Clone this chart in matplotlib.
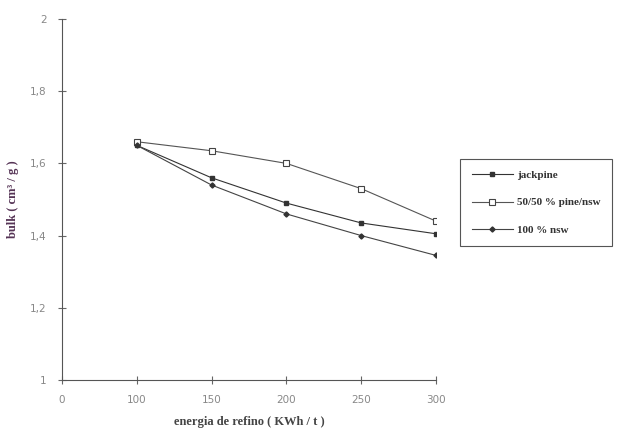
"""
Bulk vs refining energy for three pulp furnishes.
"""
import matplotlib
matplotlib.use('Agg')
import matplotlib.pyplot as plt
from matplotlib.ticker import FuncFormatter

# refining energy categories (KWh / t), evenly spaced as in a category axis
CATEGORIES = ['0', '100', '150', '200', '250', '300']
ENERGY = ['100', '150', '200', '250', '300']
# bulk (cm3 / g) for each furnish
JACKPINE = [1.65, 1.56, 1.49, 1.435, 1.405]
MIX_50_50 = [1.66, 1.635, 1.60, 1.53, 1.44]
NSW_100 = [1.65, 1.54, 1.46, 1.40, 1.345]
LABELS = ['jackpine', '50/50 % pine/nsw', '100 % nsw']

Y_TICKS = [1, 1.2, 1.4, 1.6, 1.8, 2]

# category positions of the plotted energies
XPOS = [CATEGORIES.index(e) for e in ENERGY]

fig = plt.figure(figsize=(6.23, 4.32), dpi=100)
ax = fig.add_axes([0.0995, 0.1204, 0.6005, 0.8356])

ax.plot(XPOS, JACKPINE, color='#333333', lw=0.8, marker='s', ms=3.2,
        mfc='#333333', mec='#333333', label=LABELS[0])
ax.plot(XPOS, MIX_50_50, color='#555555', lw=0.8, marker='s', ms=5,
        mfc='white', mec='#444444', mew=0.8, label=LABELS[1])
ax.plot(XPOS, NSW_100, color='#444444', lw=0.8, marker='D', ms=2.6,
        mfc='#333333', mec='#333333', label=LABELS[2])

ax.set_xlim(0, len(CATEGORIES) - 1)
ax.set_ylim(1, 2)
ax.set_xticks(range(len(CATEGORIES)))
ax.set_xticklabels(CATEGORIES)
ax.set_yticks(Y_TICKS)


def comma_fmt(v, pos):
    if abs(v - round(v)) < 1e-9:
        return str(int(round(v)))
    return ('%.1f' % v).replace('.', ',')


ax.yaxis.set_major_formatter(FuncFormatter(comma_fmt))

for side in ['top', 'right']:
    ax.spines[side].set_visible(False)
for side in ['left', 'bottom']:
    ax.spines[side].set_color('#555555')
    ax.spines[side].set_linewidth(0.8)

ax.tick_params(direction='inout', length=6, width=0.8, color='#666666',
               labelsize=7.5, labelcolor='#888888', pad=8)

ax.set_xlabel('energia de refino ( KWh / t )', family='Liberation Serif',
              fontweight='bold', fontsize=9, color='#444444', labelpad=8)
ax.set_ylabel('bulk ( cm³ / g )', family='Liberation Serif',
              fontweight='bold', fontsize=9, color='#553355', labelpad=8)

leg = fig.legend(loc='center left', bbox_to_anchor=(0.739, 0.531),
                 bbox_transform=fig.transFigure, fancybox=False,
                 edgecolor='#555555', framealpha=1, borderpad=1.0,
                 borderaxespad=0, labelspacing=1.6, handlelength=3.7,
                 handletextpad=0.4, numpoints=1,
                 prop={'family': 'Liberation Serif', 'weight': 'bold',
                       'size': 8})
leg.get_frame().set_linewidth(0.8)
for t in leg.get_texts():
    t.set_color('#333333')

fig.savefig('out.png', dpi=100)
